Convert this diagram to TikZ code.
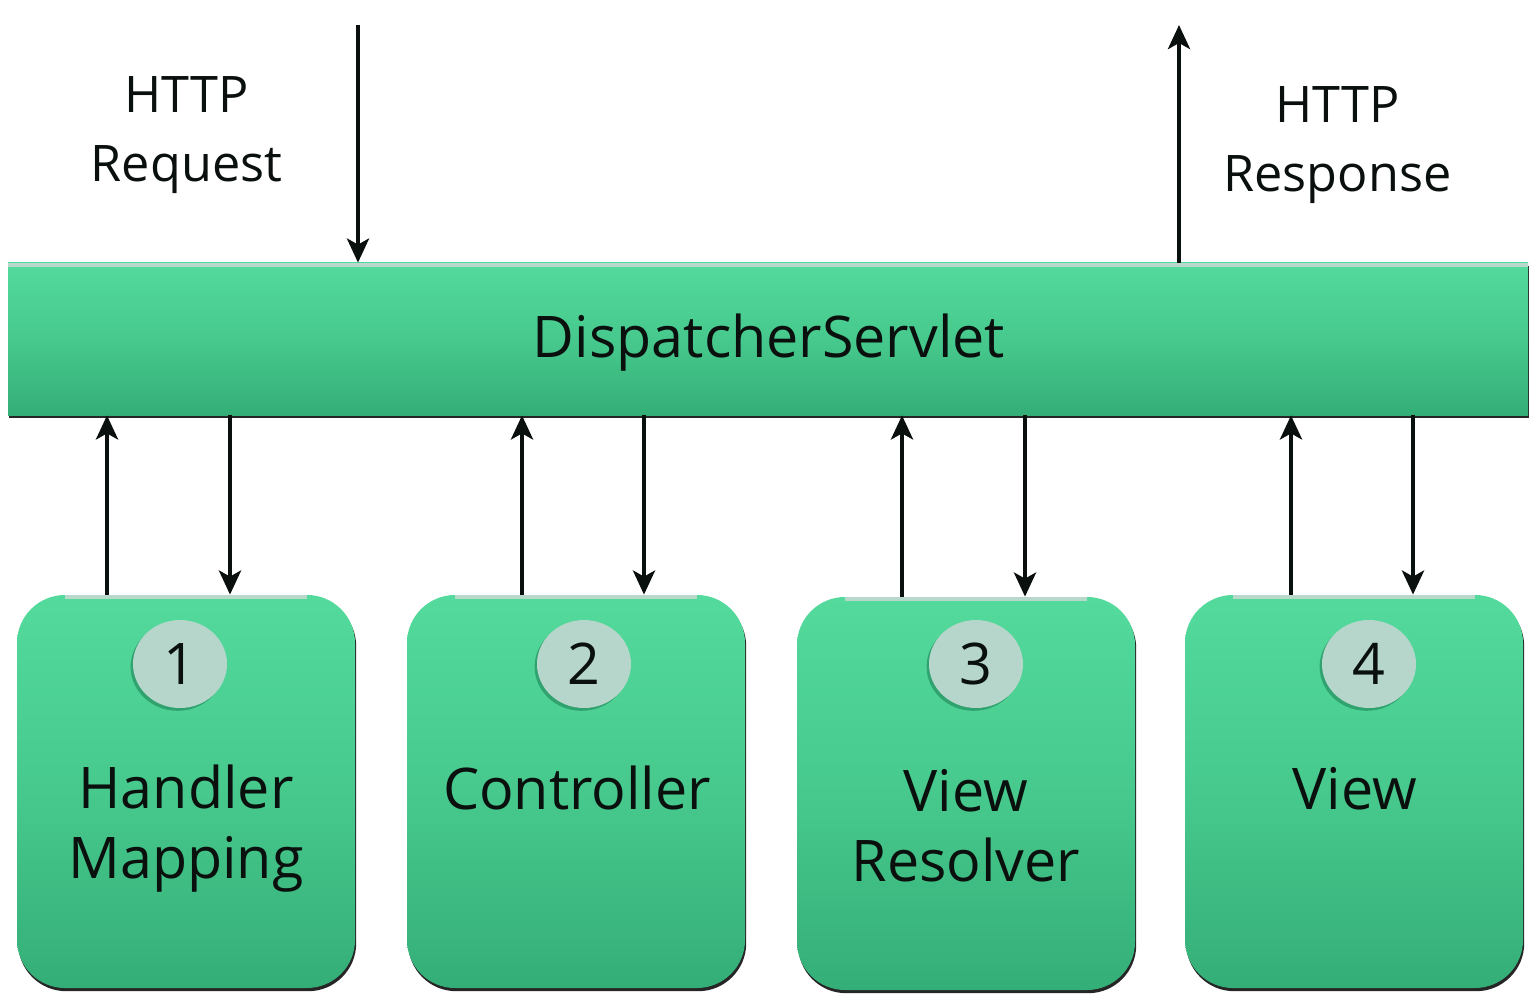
\documentclass[tikz,border=0pt]{standalone}
\usepackage{fontspec}
\setmainfont{Open Sans}
\usetikzlibrary{arrows.meta,shadows,shapes.geometric}
\definecolor{gtop}{HTML}{53DA9C}
\definecolor{gmid}{HTML}{47C98D}
\definecolor{gbot}{HTML}{34AE77}
\definecolor{hilite}{HTML}{B8D8CC}
\definecolor{bubble}{HTML}{B6D6CB}
\definecolor{bubshadow}{HTML}{2E9E6C}
\definecolor{ink}{HTML}{0A100D}
\tikzset{
  greenbox/.style={draw=none, top color=gtop, bottom color=gbot, middle color=gmid,
    drop shadow={shadow xshift=0.6pt, shadow yshift=-1.6pt, fill=black, opacity=0.85}},
  stepbox/.style={greenbox, rectangle, rounded corners=24pt,
    minimum width=169pt, minimum height=196.5pt, inner sep=0pt},
  barbox/.style={greenbox, rectangle, minimum width=760pt, minimum height=76pt, inner sep=0pt},
  bubblenode/.style={ellipse, fill=bubble, minimum width=47pt, minimum height=44pt, inner sep=0pt,
    text=ink, font=\fontsize{28.7}{35}\selectfont,
    drop shadow={shadow xshift=-1.2pt, shadow yshift=-1.4pt, fill=bubshadow, opacity=0.9}},
  boxlabel/.style={text=ink, align=center, font=\fontsize{28.7}{34.7}\selectfont, inner sep=0pt, anchor=base},
  httplabel/.style={text=ink, align=center, font=\fontsize{25.2}{34.5}\selectfont, inner sep=0pt, anchor=base},
  arr/.style={draw=ink, line width=2.2pt, -{Stealth[length=12pt, width=11pt, inset=3pt]}},
  hiline/.style={draw=hilite, line width=1.6pt}
}
\begin{document}
\begin{tikzpicture}[x=0.5pt, y=-0.5pt]
\useasboundingbox (0,0) rectangle (1536,1000);
% main bar
\node[barbox] (disp) at (768,339) {};
\draw[hiline] ([yshift=-1.2pt]disp.north west) -- ([yshift=-1.2pt]disp.north east);
\node[text=ink, font=\fontsize{28.7}{35}\selectfont, inner sep=0pt, anchor=base] (displabel) at (769,357) {DispatcherServlet};
% step boxes
\node[stepbox] (b1) at (186,791.5) {};
\node[stepbox] (b2) at (576,791.5) {};
\node[stepbox] (b3) at (966,793.5) {};
\node[stepbox] (b4) at (1354,791.5) {};
\foreach \b in {b1,b2,b3,b4}{
  \draw[hiline] ([xshift=24pt,yshift=-1.2pt]\b.north west) -- ([xshift=-24pt,yshift=-1.2pt]\b.north east);
}
% bubbles
\node[bubblenode] (c1) at (180,664) {1};
\node[bubblenode] (c2) at (584,664) {2};
\node[bubblenode] (c3) at (976,664) {3};
\node[bubblenode] (c4) at (1369,664) {4};
% box labels (base anchor = baseline of the last line)
\node[boxlabel] (l1) at (186,878) {Handler\\Mapping};
\node[boxlabel] (l2) at (577,809) {Controller};
\node[boxlabel] (l3) at (966,881) {View\\Resolver};
\node[boxlabel] (l4) at (1355,809) {View};
% http labels
\node[httplabel] (req) at (186.5,182) {HTTP\\Request};
\node[httplabel] (resp) at (1337.5,192) {HTTP\\Response};
% free ends and x guides
\coordinate (reqtop) at (358,25);
\coordinate (resptop) at (1179,25);
\coordinate (u1) at (107,0); \coordinate (d1) at (230,0);
\coordinate (u2) at (522,0); \coordinate (d2) at (644,0);
\coordinate (u3) at (902,0); \coordinate (d3) at (1025,0);
\coordinate (u4) at (1291,0); \coordinate (d4) at (1413,0);
% arrows
\draw[arr] (reqtop) -- (reqtop |- disp.north);
\draw[arr] (resptop |- disp.north) -- (resptop);
\foreach \i in {1,2,3,4}{
  \draw[arr] (b\i.north -| u\i) -- (disp.south -| u\i);
  \draw[arr] (disp.south -| d\i) -- (b\i.north -| d\i);
}
\end{tikzpicture}
\end{document}
